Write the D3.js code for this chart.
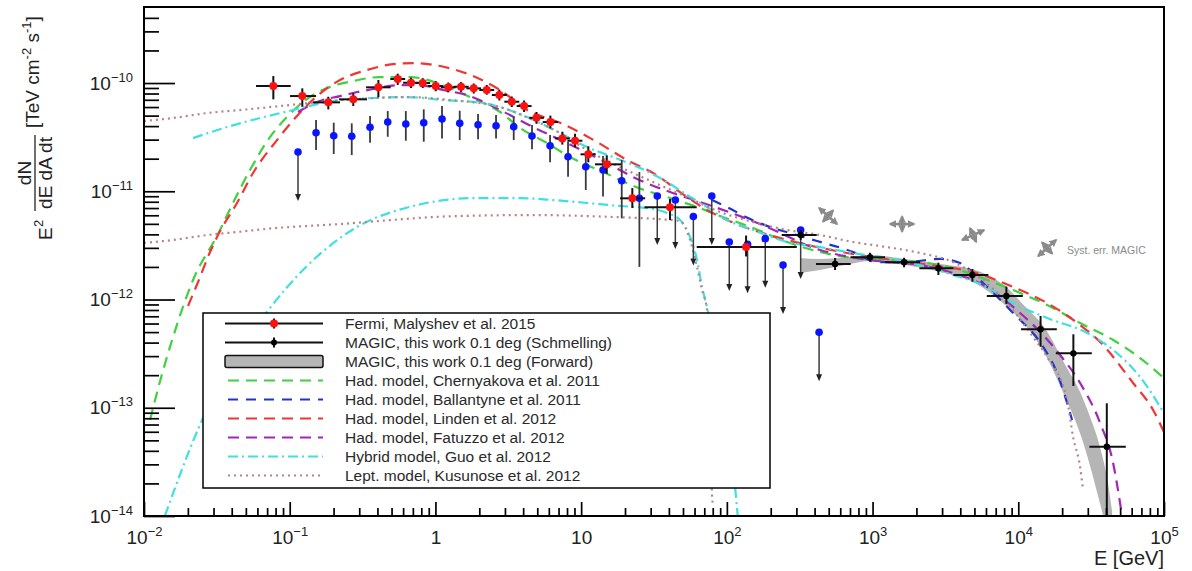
<!DOCTYPE html>
<html>
<head>
<meta charset="utf-8">
<script src="https://cdn.jsdelivr.net/npm/d3@7"></script>
<style>
  body { margin: 0; background: #fff; }
  svg { display: block; font-family: 'Liberation Sans', Arial, Helvetica, sans-serif; }
</style>
</head>
<body>
<svg id="chart" width="1192" height="571"></svg>
<script>
// ---- data (E in GeV, flux in TeV cm^-2 s^-1) ----
var xTickVals = [1e-2, 1e-1, 1, 10, 1e2, 1e3, 1e4, 1e5];
var xTickLabels = [['10', '\u22122'], ['10', '\u22121'], ['1', ''], ['10', ''], ['10', '2'], ['10', '3'], ['10', '4'], ['10', '5']];
var yTickVals = [1e-14, 1e-13, 1e-12, 1e-11, 1e-10];
var yTickLabels = [['10', '\u221214'], ['10', '\u221213'], ['10', '\u221212'], ['10', '\u221211'], ['10', '\u221210']];

// Fermi, Malyshev et al. 2015
var fermiE   = [0.0772, 0.122, 0.184, 0.273, 0.406, 0.551, 0.68, 0.818, 1.005, 1.227, 1.499, 1.832, 2.25, 2.745, 3.34, 4.06, 4.94, 6.15, 7.43, 9.08, 11.2, 14.99, 22.45, 40.7, 135.5];
var fermiF   = [9.38e-11, 7.58e-11, 6.63e-11, 7.07e-11, 9.13e-11, 1.089e-10, 1.006e-10, 1.0e-10, 9.38e-11, 9.13e-11, 9.24e-11, 8.93e-11, 8.62e-11, 7.75e-11, 6.72e-11, 6.13e-11, 4.77e-11, 4.36e-11, 3.08e-11, 2.93e-11, 2.195e-11, 1.774e-11, 8.61e-12, 7.11e-12, 3.055e-12];
var fermiELo = [0.0587, 0.1005, 0.1445, 0.218, 0.334, 0.49, 0.60, 0.73, 0.89, 1.09, 1.33, 1.63, 2.0, 2.44, 2.97, 3.61, 4.4, 5.45, 6.6, 8.05, 9.9, 12.45, 18.5, 27.2, 62.1];
var fermiEHi = [0.1016, 0.1516, 0.2215, 0.339, 0.493, 0.62, 0.77, 0.92, 1.13, 1.38, 1.69, 2.06, 2.53, 3.09, 3.76, 4.57, 5.55, 6.95, 8.35, 10.2, 12.6, 18.8, 27.5, 62.1, 302];
var fermiFLo = [7.07e-11, 6.04e-11, 5.71e-11, 6.13e-11, 7.38e-11, 9.6e-11, 9.0e-11, 9.0e-11, 8.4e-11, 8.2e-11, 8.3e-11, 8.0e-11, 7.8e-11, 6.9e-11, 6.0e-11, 5.4e-11, 4.2e-11, 3.8e-11, 2.7e-11, 2.55e-11, 1.85e-11, 1.45e-11, 7.0e-12, 5.42e-12, 2.5e-12];
var fermiFHi = [1.16e-10, 8.93e-11, 7.47e-11, 8.03e-11, 1.066e-10, 1.22e-10, 1.12e-10, 1.11e-10, 1.04e-10, 1.01e-10, 1.02e-10, 9.9e-11, 9.6e-11, 8.7e-11, 7.5e-11, 6.9e-11, 5.4e-11, 5.0e-11, 3.55e-11, 3.4e-11, 2.6e-11, 2.15e-11, 1.07e-11, 8.48e-12, 3.9e-12];

// blue points (ul = 1 means upper limit)
var blueE  = [0.114, 0.1516, 0.2005, 0.2665, 0.3558, 0.4707, 0.6264, 0.8315, 1.110, 1.468, 1.961, 2.606, 3.446, 4.60, 6.12, 8.13, 10.76, 14.13, 18.99, 25.1, 33.3, 44.3, 58.9, 78.8, 103.9, 138.7, 183.5, 243, 321, 429.5];
var blueF  = [2.305e-11, 3.47e-11, 3.26e-11, 3.22e-11, 3.90e-11, 4.36e-11, 4.18e-11, 4.30e-11, 4.65e-11, 4.24e-11, 4.12e-11, 4.03e-11, 3.95e-11, 3.24e-11, 2.635e-11, 2.085e-11, 1.685e-11, 1.571e-11, 1.252e-11, 8.61e-12, 9.04e-12, 8.30e-12, 5.84e-12, 9.04e-12, 3.40e-12, 3.24e-12, 3.65e-12, 2.08e-12, 4.39e-12, 4.98e-13];
var blueLo = [0, 2.405e-11, 2.21e-11, 2.16e-11, 2.81e-11, 3.19e-11, 2.93e-11, 2.87e-11, 3.08e-11, 2.97e-11, 3.02e-11, 3.08e-11, 2.97e-11, 2.44e-11, 1.85e-11, 1.362e-11, 1.027e-11, 8.94e-12, 5.62e-12, 2.0e-12, 0, 0, 0, 0, 0, 0, 0, 0, 0, 0];
var blueHi = [0, 4.55e-11, 4.30e-11, 4.24e-11, 4.96e-11, 5.51e-11, 5.51e-11, 5.71e-11, 6.13e-11, 5.55e-11, 5.17e-11, 5.06e-11, 4.88e-11, 4.09e-11, 3.31e-11, 2.87e-11, 2.32e-11, 2.12e-11, 1.944e-11, 1.507e-11, 0, 0, 0, 0, 0, 0, 0, 0, 0, 0];
var blueUL = [1, 0, 0, 0, 0, 0, 0, 0, 0, 0, 0, 0, 0, 0, 0, 0, 0, 0, 0, 0, 1, 1, 1, 1, 1, 1, 1, 1, 1, 1];

// MAGIC, this work 0.1 deg (Schmelling)
var magicE   = [321.5, 552.8, 961, 1645, 2829, 4842, 8285, 14220, 23880, 40500];
var magicF   = [3.94e-12, 2.13e-12, 2.455e-12, 2.207e-12, 1.942e-12, 1.684e-12, 1.077e-12, 5.32e-13, 3.18e-13, 4.37e-14];
var magicELo = [238, 409, 706, 1218, 2095, 3585, 6080, 10450, 18090, 30760];
var magicEHi = [414, 708, 1218, 2118, 3585, 6234, 10740, 18380, 31950, 54690];
var magicFLo = [3.55e-12, 1.873e-12, 2.234e-12, 1.984e-12, 1.684e-12, 1.46e-12, 9.09e-13, 3.66e-13, 1.589e-13, 5e-15];
var magicFHi = [4.39e-12, 2.416e-12, 2.705e-12, 2.432e-12, 2.188e-12, 1.913e-12, 1.313e-12, 7.04e-13, 4.77e-13, 1.10e-13];

// MAGIC, this work 0.1 deg (Forward) band
var bandE  = [318, 436, 700.8, 961, 1671, 2906, 5052, 8115, 11137, 15276, 20955, 26558, 31104, 36430, 41330, 44040];
var bandHi = [2.42e-12, 2.37e-12, 2.47e-12, 2.58e-12, 2.37e-12, 2.13e-12, 1.873e-12, 1.33e-12, 8.6e-13, 5.4e-13, 2.5e-13, 1.4e-13, 8.2e-14, 4.3e-14, 2.0e-14, 1.1e-14];
var bandLo = [1.757e-12, 1.873e-12, 2.13e-12, 2.27e-12, 2.08e-12, 1.795e-12, 1.42e-12, 8.9e-13, 5.8e-13, 3.1e-13, 1.25e-13, 5.8e-14, 2.9e-14, 1.3e-14, 7.0e-15, 6.0e-15];

// models
var chernyakovaE = [0.011, 0.0129, 0.0156, 0.0217, 0.0322, 0.0408, 0.0534, 0.0732, 0.0958, 0.1234, 0.1803, 0.272, 0.4168, 0.669, 1.0755, 1.728, 2.776, 3.81, 5.834, 8.39, 14.14, 23.8, 40.75, 62.4, 89.8, 151.3, 259, 436, 735, 1257, 2118, 3568, 6106, 9211, 15770, 26558, 44740, 68550, 100000];
var chernyakovaF = [7.7e-14, 1.767e-13, 4.23e-13, 1.514e-12, 4.03e-12, 7.79e-12, 1.571e-11, 3.17e-11, 4.85e-11, 6.68e-11, 8.99e-11, 1.043e-10, 1.136e-10, 1.136e-10, 9.79e-11, 7.42e-11, 5.40e-11, 3.84e-11, 2.79e-11, 2.07e-11, 1.506e-11, 1.095e-11, 8.66e-12, 7.15e-12, 5.91e-12, 4.58e-12, 3.40e-12, 2.75e-12, 2.42e-12, 2.32e-12, 2.22e-12, 1.954e-12, 1.514e-12, 1.224e-12, 8.90e-13, 6.07e-13, 4.23e-13, 2.88e-13, 1.88e-13];

var ballantyneE = [79.1, 100.3, 139.8, 197.9, 271.6, 416, 735, 1074, 1671, 2906, 3987, 5731, 9211, 14795, 18468, 21627, 23400];
var ballantyneF = [8.30e-12, 7.15e-12, 5.66e-12, 4.67e-12, 4.11e-12, 3.47e-12, 2.75e-12, 2.22e-12, 2.22e-12, 2.37e-12, 2.17e-12, 1.42e-12, 7.50e-13, 3.66e-13, 2.09e-13, 1.106e-13, 7.7e-14];

var lindenE = [0.02005, 0.02348, 0.0284, 0.0322, 0.04347, 0.056, 0.0818, 0.1122, 0.1539, 0.2215, 0.3392, 0.5117, 0.7019, 1.0755, 1.812, 2.776, 4.253, 7.51, 12.86, 20.65, 31.16, 53.3, 73.1, 100.3, 259, 668, 2481, 4897, 9211, 15770, 26558, 36430, 61380, 84200, 100000];
var lindenF = [8.71e-13, 1.45e-12, 2.75e-12, 3.94e-12, 7.79e-12, 1.474e-11, 2.97e-11, 4.96e-11, 7.58e-11, 1.066e-10, 1.318e-10, 1.496e-10, 1.53e-10, 1.436e-10, 1.161e-10, 8.62e-11, 5.63e-11, 4.18e-11, 2.85e-11, 1.944e-11, 1.474e-11, 8.85e-12, 6.71e-12, 5.43e-12, 3.55e-12, 2.69e-12, 2.08e-12, 1.795e-12, 1.304e-12, 9.28e-13, 5.81e-13, 4.05e-13, 1.693e-13, 9.53e-14, 5.97e-14];

var fatuzzoE = [0.114, 0.1539, 0.2215, 0.3729, 0.5715, 0.8757, 1.128, 1.648, 2.776, 4.677, 8.0, 15.06, 22.71, 40.75, 65.5, 117.5, 169, 436, 1074, 2118, 3568, 6106, 10290, 14795, 19365, 26558, 36430, 44740, 49950, 51560];
var fatuzzoF = [5.40e-11, 6.68e-11, 7.58e-11, 8.80e-11, 9.58e-11, 9.38e-11, 8.62e-11, 7.74e-11, 5.63e-11, 3.92e-11, 2.79e-11, 1.824e-11, 1.354e-11, 9.84e-12, 7.96e-12, 6.03e-12, 4.98e-12, 2.87e-12, 2.27e-12, 2.08e-12, 1.757e-12, 1.304e-12, 7.50e-13, 4.70e-13, 3.07e-13, 1.693e-13, 7.23e-14, 3.09e-14, 1.318e-14, 1.0e-14];

var guoE = [0.0217, 0.0371, 0.0625, 0.1054, 0.1445, 0.2215, 0.3729, 0.6384, 1.128, 2.122, 2.776, 4.253, 7.165, 10.98, 16.56, 25.37, 38.87, 53.3, 73.1, 100.3, 151.3, 259, 436, 735, 1257, 2118, 3568, 6106, 9211, 15770, 29664, 44740, 68550, 100000];
var guoF = [3.10e-11, 3.92e-11, 4.75e-11, 5.63e-11, 6.26e-11, 6.97e-11, 7.27e-11, 7.42e-11, 6.97e-11, 6.53e-11, 6.00e-11, 4.85e-11, 3.45e-11, 2.56e-11, 2.07e-11, 1.64e-11, 1.218e-11, 9.23e-12, 7.15e-12, 5.43e-12, 4.39e-12, 3.40e-12, 3.05e-12, 2.69e-12, 2.42e-12, 2.08e-12, 1.684e-12, 1.304e-12, 9.28e-13, 6.75e-13, 4.90e-13, 3.42e-13, 1.923e-13, 8.94e-14];
var guo2E = [0.0139, 0.02385, 0.0421, 0.0688, 0.1294, 0.2895, 0.6589, 1.90, 3.574, 6.41, 10.98, 18.49, 28.34, 38.87, 47.73, 55.9, 62.4, 67.6, 73.1, 83.0, 97.2, 113.8, 119.4];
var guo2F = [1.0e-14, 6.64e-14, 2.94e-13, 7.50e-13, 2.0e-12, 4.67e-12, 7.15e-12, 8.66e-12, 8.66e-12, 8.30e-12, 7.79e-12, 7.31e-12, 7.0e-12, 6.30e-12, 5.43e-12, 3.78e-12, 2.32e-12, 1.304e-12, 8.52e-13, 3.42e-13, 7.7e-14, 1.853e-14, 0.92e-14];

var kusunoseE = [0.01, 0.0158, 0.02706, 0.0456, 0.0858, 0.1614, 0.2895, 0.6384, 1.26, 2.776, 4.677, 7.165, 10.98, 18.49, 31.16, 53.3, 89.8, 151.3, 259, 436, 735, 1257, 2118, 3568, 5467, 8379, 12636, 15770, 21627, 23773, 26558, 27846];
var kusunoseF = [4.46e-11, 4.75e-11, 5.28e-11, 5.63e-11, 6.13e-11, 6.68e-11, 7.12e-11, 7.42e-11, 6.97e-11, 6.00e-11, 4.55e-11, 3.45e-11, 2.40e-11, 1.675e-11, 1.218e-11, 8.85e-12, 6.43e-12, 5.20e-12, 4.39e-12, 3.94e-12, 3.40e-12, 3.05e-12, 2.69e-12, 2.22e-12, 1.58e-12, 9.28e-13, 4.50e-13, 2.94e-13, 1.179e-13, 5.37e-14, 2.84e-14, 1.74e-14];
var kusunose2E = [0.01, 0.0158, 0.02706, 0.0456, 0.0768, 0.1315, 0.2215, 0.3973, 1.385, 4.826, 16.82, 34.8, 47.73, 55.9, 62.4, 67.6, 73.1, 76.7, 79.1, 80.4];
var kusunose2F = [3.33e-12, 3.55e-12, 3.94e-12, 4.23e-12, 4.55e-12, 4.78e-12, 4.98e-12, 5.3e-12, 5.9e-12, 6.03e-12, 5.78e-12, 5.52e-12, 5.31e-12, 3.55e-12, 2.0e-12, 1.224e-12, 8.0e-13, 1.18e-13, 1.563e-14, 1.26e-14];

// systematic error crosses
var systE = [495, 1594, 4897, 15770];
var systF = [5.91e-12, 4.98e-12, 3.94e-12, 2.99e-12];

var legendLabels = ['Fermi, Malyshev et al. 2015', 'MAGIC, this work 0.1 deg (Schmelling)', 'MAGIC, this work 0.1 deg (Forward)',
  'Had. model, Chernyakova et al. 2011', 'Had. model, Ballantyne et al. 2011', 'Had. model, Linden et al. 2012',
  'Had. model, Fatuzzo et al. 2012', 'Hybrid model, Guo et al. 2012', 'Lept. model, Kusunose et al. 2012'];

// ---- chart ----
var svg = d3.select('#chart');
var pLeft = 144, pRight = 1164, pTop = 7, pBottom = 516;
var textCol = '#222';

var x = d3.scaleLog().domain([1e-2, 1e5]).range([pLeft, pRight]);
var y = d3.scaleLog().domain([1e-14, 5.04e-10]).range([pBottom, pTop]);

var defs = svg.append('defs');
defs.append('clipPath').attr('id', 'plotclip')
  .append('rect').attr('x', pLeft).attr('y', pTop).attr('width', pRight - pLeft).attr('height', pBottom - pTop);
defs.append('marker').attr('id', 'sysarrow')
  .attr('viewBox', '0 0 10 10').attr('refX', 8).attr('refY', 5)
  .attr('markerWidth', 3).attr('markerHeight', 3).attr('markerUnits', 'strokeWidth')
  .attr('orient', 'auto-start-reverse')
  .append('path').attr('d', 'M0,0 L10,5 L0,10 z').attr('fill', '#8a8a8a');

var plot = svg.append('g').attr('clip-path', 'url(#plotclip)');

// forward band
var bandData = bandE.map(function(e, i) { return {e: e, lo: bandLo[i], hi: bandHi[i]}; });
plot.append('path')
  .datum(bandData)
  .attr('d', d3.area().x(d => x(d.e)).y0(d => y(d.lo)).y1(d => y(d.hi)).curve(d3.curveMonotoneX))
  .attr('fill', '#b5b5b5');

// model curves
var models = [
  {e: chernyakovaE, f: chernyakovaF, color: '#3fd13f', dash: '11,7'},
  {e: ballantyneE, f: ballantyneF, color: '#2233cc', dash: '10,8'},
  {e: lindenE, f: lindenF, color: '#f03535', dash: '11,7'},
  {e: fatuzzoE, f: fatuzzoF, color: '#a028b4', dash: '11,7'},
  {e: guoE, f: guoF, color: '#3fe0e0', dash: '10,4,2,4'},
  {e: guo2E, f: guo2F, color: '#3fe0e0', dash: '10,4,2,4'},
  {e: kusunoseE, f: kusunoseF, color: '#b58585', dash: '2,4'},
  {e: kusunose2E, f: kusunose2F, color: '#b58585', dash: '2,4'}
];
var line = d3.line().x(d => x(d[0])).y(d => y(d[1])).curve(d3.curveMonotoneX);
models.forEach(function(m) {
  plot.append('path')
    .datum(m.e.map((e, i) => [e, m.f[i]]))
    .attr('d', line)
    .attr('fill', 'none')
    .attr('stroke', m.color)
    .attr('stroke-width', 2.2)
    .attr('stroke-dasharray', m.dash);
});

// blue points
var blue = blueE.map(function(e, i) { return {e: e, f: blueF[i], lo: blueLo[i], hi: blueHi[i], ul: blueUL[i]}; });
var bg = plot.append('g');
bg.selectAll('line.err').data(blue.filter(d => !d.ul)).enter().append('line')
  .attr('x1', d => x(d.e)).attr('x2', d => x(d.e))
  .attr('y1', d => y(d.lo)).attr('y2', d => y(d.hi))
  .attr('stroke', '#3a3a3a').attr('stroke-width', 1.8);
var ul = bg.selectAll('g.ul').data(blue.filter(d => d.ul)).enter().append('g')
  .attr('transform', d => 'translate(' + x(d.e) + ',' + y(d.f) + ')');
ul.append('line').attr('x1', 0).attr('x2', 0).attr('y1', 0).attr('y2', 44)
  .attr('stroke', '#3a3a3a').attr('stroke-width', 1.5);
ul.append('path').attr('d', 'M-3,42 L3,42 L0,49 z').attr('fill', '#222');
bg.selectAll('circle').data(blue).enter().append('circle')
  .attr('cx', d => x(d.e)).attr('cy', d => y(d.f)).attr('r', 3.8)
  .attr('fill', '#0a14ff');

// Fermi points
var fermi = fermiE.map(function(e, i) {
  return {e: e, f: fermiF[i], e0: fermiELo[i], e1: fermiEHi[i], f0: fermiFLo[i], f1: fermiFHi[i]};
});
var fg = plot.append('g');
fg.selectAll('line.h').data(fermi).enter().append('line')
  .attr('x1', d => x(d.e0)).attr('x2', d => x(d.e1))
  .attr('y1', d => y(d.f)).attr('y2', d => y(d.f))
  .attr('stroke', '#111').attr('stroke-width', 2);
fg.selectAll('line.v').data(fermi).enter().append('line')
  .attr('x1', d => x(d.e)).attr('x2', d => x(d.e))
  .attr('y1', d => y(d.f0)).attr('y2', d => y(d.f1))
  .attr('stroke', '#111').attr('stroke-width', 2);
fg.selectAll('circle').data(fermi).enter().append('circle')
  .attr('cx', d => x(d.e)).attr('cy', d => y(d.f)).attr('r', 4)
  .attr('fill', '#ff1010');

// MAGIC Schmelling points
var magic = magicE.map(function(e, i) {
  return {e: e, f: magicF[i], e0: magicELo[i], e1: magicEHi[i], f0: magicFLo[i], f1: magicFHi[i]};
});
var mg = plot.append('g');
mg.selectAll('line.h').data(magic).enter().append('line')
  .attr('x1', d => x(d.e0)).attr('x2', d => x(d.e1))
  .attr('y1', d => y(d.f)).attr('y2', d => y(d.f))
  .attr('stroke', '#111').attr('stroke-width', 2);
mg.selectAll('line.v').data(magic).enter().append('line')
  .attr('x1', d => x(d.e)).attr('x2', d => x(d.e))
  .attr('y1', d => y(d.f0)).attr('y2', d => y(d.f1))
  .attr('stroke', '#111').attr('stroke-width', 2);
mg.selectAll('circle').data(magic).enter().append('circle')
  .attr('cx', d => x(d.e)).attr('cy', d => y(d.f)).attr('r', 3.2)
  .attr('fill', '#000');

// systematic error crosses
var systAngle = [42, 0, -24, -42];
var sg = svg.append('g').selectAll('g').data(systE).enter().append('g')
  .attr('transform', (d, i) => 'translate(' + x(d) + ',' + y(systF[i]) + ') rotate(' + systAngle[i] + ')');
sg.append('line').attr('x1', -12).attr('x2', 12).attr('y1', 0).attr('y2', 0);
sg.append('line').attr('x1', 0).attr('x2', 0).attr('y1', -7.5).attr('y2', 7.5);
sg.selectAll('line').attr('stroke', '#8a8a8a').attr('stroke-width', 2.6)
  .attr('marker-start', 'url(#sysarrow)').attr('marker-end', 'url(#sysarrow)');
svg.append('text').attr('x', 1067).attr('y', 254).attr('font-size', 10.5).attr('fill', '#8a8a8a')
  .text('Syst. err. MAGIC');

// axes
var yMinor = [];
for (var p = -14; p < -9; p++) {
  for (var k = 2; k < 10; k++) {
    var v = k * Math.pow(10, p);
    if (v < 5e-10) yMinor.push(v);
  }
}
var xMinor = [];
for (var q = -2; q < 5; q++) {
  for (var j = 2; j < 10; j++) xMinor.push(j * Math.pow(10, q));
}

var gy = svg.append('g').attr('transform', 'translate(' + pLeft + ',0)')
  .call(d3.axisLeft(y).tickValues(yTickVals).tickSizeInner(-31).tickSizeOuter(0).tickPadding(11).tickFormat(''));
var gyMinor = svg.append('g').attr('transform', 'translate(' + pLeft + ',0)')
  .call(d3.axisLeft(y).tickValues(yMinor).tickSizeInner(-15).tickSizeOuter(0).tickFormat(''));
var gx = svg.append('g').attr('transform', 'translate(0,' + pBottom + ')')
  .call(d3.axisBottom(x).tickValues(xTickVals).tickSizeInner(-14).tickSizeOuter(0).tickPadding(15).tickFormat(''));
var gxMinor = svg.append('g').attr('transform', 'translate(0,' + pBottom + ')')
  .call(d3.axisBottom(x).tickValues(xMinor).tickSizeInner(-8).tickSizeOuter(0).tickFormat(''));

[gy, gyMinor, gx, gxMinor].forEach(function(g) {
  g.select('.domain').remove();
  g.attr('font-family', null).attr('font-size', 19);
  g.selectAll('.tick line').attr('stroke', '#000').attr('stroke-width', 1.7);
});
gyMinor.selectAll('.tick text').remove();
gxMinor.selectAll('.tick text').remove();

gy.selectAll('.tick text').each(function(d, i) {
  var t = d3.select(this).attr('fill', textCol);
  t.append('tspan').text(yTickLabels[i][0]);
  t.append('tspan').attr('font-size', 13).attr('dy', -8).text(yTickLabels[i][1]);
});
gx.selectAll('.tick text').each(function(d, i) {
  var t = d3.select(this).attr('fill', textCol);
  t.append('tspan').text(xTickLabels[i][0]);
  if (xTickLabels[i][1]) t.append('tspan').attr('font-size', 13).attr('dy', -8).text(xTickLabels[i][1]);
});

// frame
svg.append('rect').attr('x', pLeft).attr('y', pTop).attr('width', pRight - pLeft).attr('height', pBottom - pTop)
  .attr('fill', 'none').attr('stroke', '#000').attr('stroke-width', 2);

// axis titles
svg.append('text').attr('x', pRight).attr('y', 565).attr('text-anchor', 'end')
  .attr('font-size', 20).attr('fill', textCol).text('E [GeV]');

var yt = svg.append('g').attr('transform', 'translate(52,240) rotate(-90)')
  .attr('font-size', 19).attr('fill', textCol);
yt.append('text').attr('x', 0).attr('y', 0).text('E');
yt.append('text').attr('x', 13).attr('y', -9).attr('font-size', 13).text('2');
yt.append('text').attr('x', 67).attr('y', 0).attr('text-anchor', 'middle').text('dE dA dt');
yt.append('line').attr('x1', 29).attr('x2', 105).attr('y1', -17).attr('y2', -17)
  .attr('stroke', textCol).attr('stroke-width', 1.3);
yt.append('text').attr('x', 67).attr('y', -21).attr('text-anchor', 'middle').text('dN');
var br = yt.append('text').attr('x', 112).attr('y', -13);
br.append('tspan').text('[TeV cm');
br.append('tspan').attr('dy', -8).attr('font-size', 13).text('-2');
br.append('tspan').attr('dy', 8).text(' s');
br.append('tspan').attr('dy', -8).attr('font-size', 13).text('-1');
br.append('tspan').attr('dy', 8).text(']');

// legend
var lg = svg.append('g').attr('transform', 'translate(203,313)');
lg.append('rect').attr('x', 0).attr('y', 0).attr('width', 567).attr('height', 175)
  .attr('fill', '#fff').attr('stroke', '#000').attr('stroke-width', 1.5);
var rowY = d3.scaleLinear().domain([0, 8]).range([10.5, 162.5]);
var symX0 = 22, symX1 = 120, symXc = 71;
var rows = lg.selectAll('g.row').data(legendLabels).enter().append('g')
  .attr('transform', (d, i) => 'translate(0,' + rowY(i) + ')');
rows.append('text').attr('x', 142).attr('y', 5.5).attr('font-size', 15.5).attr('fill', '#2a2a2a')
  .text(d => d);
rows.each(function(d, i) {
  var r = d3.select(this);
  if (i < 2) {
    r.append('line').attr('x1', symX0).attr('x2', symX1).attr('y1', 0).attr('y2', 0)
      .attr('stroke', '#111').attr('stroke-width', 2);
    r.append('line').attr('x1', symXc).attr('x2', symXc).attr('y1', -5).attr('y2', 5)
      .attr('stroke', '#111').attr('stroke-width', 2);
    r.append('circle').attr('cx', symXc).attr('cy', 0).attr('r', i === 0 ? 4 : 3)
      .attr('fill', i === 0 ? '#ff1010' : '#000');
  } else if (i === 2) {
    r.append('rect').attr('x', symX0).attr('y', -6).attr('width', symX1 - symX0).attr('height', 12).attr('rx', 2)
      .attr('fill', '#b5b5b5').attr('stroke', '#111').attr('stroke-width', 1.5);
  } else {
    var m = models[[0, 1, 2, 3, 4, 6][i - 3]];
    r.append('line').attr('x1', symX0 + 3).attr('x2', symX1).attr('y1', 0).attr('y2', 0)
      .attr('stroke', m.color).attr('stroke-width', 2.2).attr('stroke-dasharray', m.dash);
  }
});
</script>
</body>
</html>
